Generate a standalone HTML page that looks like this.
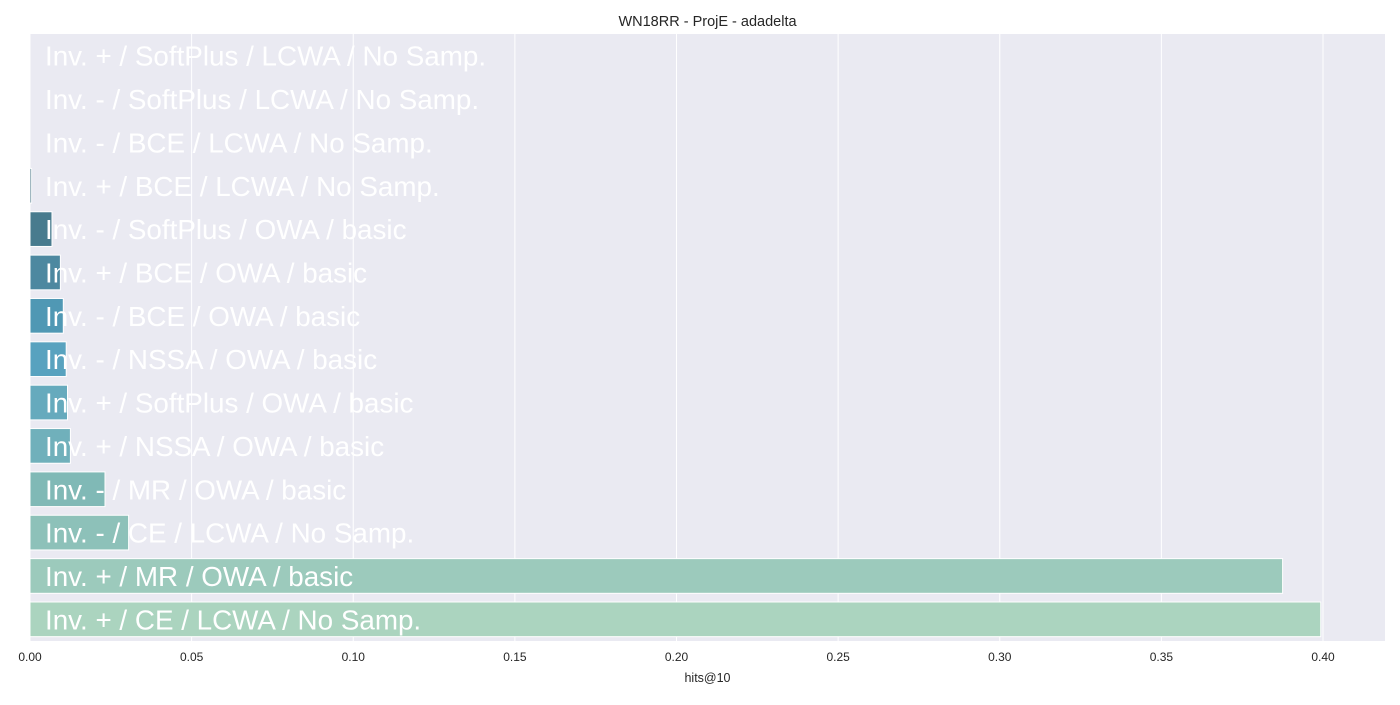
<!DOCTYPE html>
<html><head><meta charset="utf-8"><style>
body{margin:0;background:#fff;font-family:"Liberation Sans",Arial,sans-serif;}
</style></head><body>
<svg id="c" width="1400" height="700" xmlns="http://www.w3.org/2000/svg"></svg>
<script>
const categories=["Inv. + / SoftPlus / LCWA / No Samp.","Inv. - / SoftPlus / LCWA / No Samp.","Inv. - / BCE / LCWA / No Samp.","Inv. + / BCE / LCWA / No Samp.","Inv. - / SoftPlus / OWA / basic","Inv. + / BCE / OWA / basic","Inv. - / BCE / OWA / basic","Inv. - / NSSA / OWA / basic","Inv. + / SoftPlus / OWA / basic","Inv. + / NSSA / OWA / basic","Inv. - / MR / OWA / basic","Inv. - / CE / LCWA / No Samp.","Inv. + / MR / OWA / basic","Inv. + / CE / LCWA / No Samp."];
const values=[0,0,0,0.0005,0.0068,0.0094,0.0103,0.0112,0.0116,0.0125,0.0232,0.0305,0.3875,0.3993];
const ticks=[0,0.05,0.1,0.15,0.2,0.25,0.3,0.35,0.4];
const tickLabels=["0.00","0.05","0.10","0.15","0.20","0.25","0.30","0.35","0.40"];
const colors=["#2c4f5c","#34596a","#3b6475","#426f82","#487b8e","#4d88a0","#5098b4","#58a2bf","#66aabd","#70b0bb","#80b9b6","#8dc1b9","#9ccabc","#abd4bf"];
const svg=document.getElementById('c');const NS="http://www.w3.org/2000/svg";
const L=30,R=1385,T=34,B=641;
const x=v=>L+v*(1322-29)/0.4;
const band=(B-T)/categories.length;
const y=i=>T+i*band;
function mk(t,a,p){const e=document.createElementNS(NS,t);for(const k in a)e.setAttribute(k,a[k]);(p||svg).appendChild(e);return e;}
const bg=mk('rect',{x:L,y:T,width:R-L,height:B-T,fill:'#eaeaf2'});


ticks.forEach((t,i)=>{
 const g=mk('line',{x1:x(t),x2:x(t),y1:T,y2:B,stroke:'#fff','stroke-width':1});
 
 
 const tl=mk('text',{x:x(t),y:661,'text-anchor':'middle','font-size':12,fill:'#262626'});
 tl.textContent=tickLabels[i];
 
 
});
categories.forEach((c,i)=>{
 const w=x(values[i])-x(0);
 const r=mk('rect',{x:x(0),y:y(i)+band*0.1,width:Math.max(w,0),height:band*0.8,fill:colors[i],stroke:'#fff','stroke-width':1});
 
 
 const t=mk('text',{x:45,y:y(i)+band/2+10,'font-size':27.8,fill:'#fff'});
 t.textContent=c;
 
 
});
const ti=mk('text',{x:(L+R)/2,y:26,'text-anchor':'middle','font-size':14.5,fill:'#262626'});
ti.textContent="WN18RR - ProjE - adadelta";


const xl=mk('text',{x:(L+R)/2,y:682,'text-anchor':'middle','font-size':12.5,fill:'#262626'});
xl.textContent="hits@10";


</script>
</body></html>
